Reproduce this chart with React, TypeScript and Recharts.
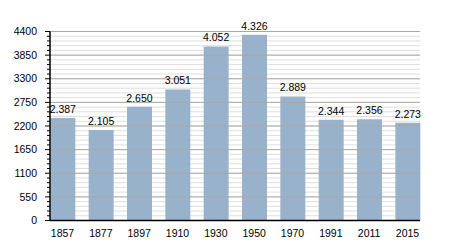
import React from 'react';
import { BarChart, Bar, XAxis, YAxis, CartesianGrid, LabelList, ReferenceLine } from 'recharts';

const years = ['1857', '1877', '1897', '1910', '1930', '1950', '1970', '1991', '2011', '2015'];
const population = [2387, 2105, 2650, 3051, 4052, 4326, 2889, 2344, 2356, 2273];
const majorTicks = [0, 550, 1100, 1650, 2200, 2750, 3300, 3850, 4400];
const minorTicks = [
  0, 110, 220, 330, 440, 550, 660, 770, 880, 990, 1100, 1210, 1320, 1430, 1540, 1650, 1760, 1870, 1980, 2090,
  2200, 2310, 2420, 2530, 2640, 2750, 2860, 2970, 3080, 3190, 3300, 3410, 3520, 3630, 3740, 3850, 3960, 4070,
  4180, 4290, 4400,
];

const data = years.map((y, i) => ({ year: y, value: population[i] }));

const fmt = (v: number) => {
  const s = String(v);
  return s.length > 3 ? s.slice(0, s.length - 3) + '.' + s.slice(s.length - 3) : s;
};

const font = 'Liberation Sans, Arial, sans-serif';
const TICK_MARGIN = 8;

const YTick = (props: any) => {
  const { x, y, payload } = props;
  const v = Number(payload.value);
  const isMajor = majorTicks.includes(v);
  const axisX = x + TICK_MARGIN + 5;
  return (
    <g>
      <line x1={axisX - (isMajor ? 5 : 3)} x2={axisX} y1={y} y2={y} stroke="#000" strokeWidth={1} />
      {isMajor && (
        <text x={x} y={y} dy="0.355em" textAnchor="end" fill="#000" fontSize={10.5} fontFamily={font}>
          {v}
        </text>
      )}
    </g>
  );
};

export default function App() {
  return (
    <div style={{ position: 'absolute', left: 0, top: 0, width: 450, height: 250, background: '#fff' }}>
      <BarChart
        width={450}
        height={250}
        data={data}
        margin={{ top: 31.5, right: 30, bottom: 9.5, left: 0 }}
      >
        <CartesianGrid vertical={false} stroke="#dedede" strokeWidth={1} />
        {majorTicks.map((t) => (
          <ReferenceLine key={t} y={t} stroke="#a8a8a8" strokeWidth={1} />
        ))}
        <XAxis
          dataKey="year"
          height={20}
          padding={{ left: -6.67, right: -6.67 }}
          tickLine={false}
          axisLine={{ stroke: '#000', strokeWidth: 1.5 }}
          tick={{ fill: '#000', fontSize: 10.5, fontFamily: font }}
          tickMargin={3}
          interval={0}
        />
        <YAxis
          width={50}
          domain={[0, 4400]}
          ticks={minorTicks}
          interval={0}
          tickSize={5}
          tickMargin={TICK_MARGIN}
          tickLine={false}
          axisLine={{ stroke: '#000', strokeWidth: 1.5 }}
          tick={<YTick />}
        />
        <Bar dataKey="value" fill="#99b2cc" barSize={25} isAnimationActive={false}>
          <LabelList
            dataKey="value"
            position="top"
            formatter={(v: any) => fmt(Number(v))}
            style={{ fill: '#000', fontSize: 10.5, fontFamily: font }}
          />
        </Bar>
      </BarChart>
    </div>
  );
}
